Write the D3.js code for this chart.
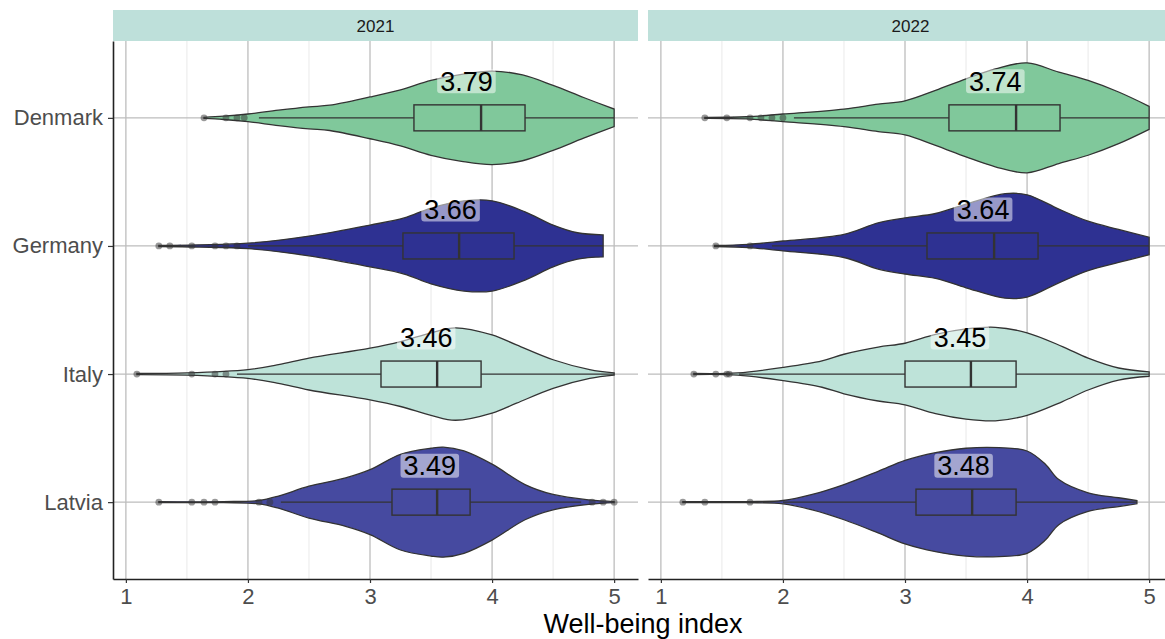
<!DOCTYPE html>
<html>
<head>
<meta charset="utf-8">
<script src="https://cdn.jsdelivr.net/npm/d3@7"></script>
<style>
  body { margin: 0; background: #fff; }
  svg { display: block; font-family: "Liberation Sans", Arial, sans-serif; }
</style>
</head>
<body>
<div class="chart"></div>
<script>
// Categories and facets
var countries = ["Denmark", "Germany", "Italy", "Latvia"];
var years = ["2021", "2022"];
var xTicks = [1, 2, 3, 4, 5];
var xMinorTicks = [1.5, 2.5, 3.5, 4.5];
var countryColors = ["#80C89B", "#2E3192", "#BEE3D9", "#464AA0"];

// Summary values, indexed [year][country]
var meanValues = [[3.79, 3.66, 3.46, 3.49], [3.74, 3.64, 3.45, 3.48]];
var medianValues = [[3.91, 3.73, 3.55, 3.55], [3.91, 3.73, 3.54, 3.55]];
var q1Values = [[3.36, 3.27, 3.09, 3.18], [3.36, 3.18, 3.00, 3.09]];
var q3Values = [[4.27, 4.18, 3.91, 3.82], [4.27, 4.09, 3.91, 3.91]];
var whiskerLow = [[2.09, 2.00, 1.91, 2.27], [2.09, 1.91, 1.64, 2.00]];
var whiskerHigh = [[5.00, 4.91, 5.00, 4.73], [5.00, 5.00, 5.00, 4.90]];

// Outlying points, indexed [year][country]
var outliers = [
    [[1.64, 1.82, 1.91, 1.97],
     [1.27, 1.36, 1.54, 1.73, 1.82, 1.91],
     [1.09, 1.54, 1.73, 1.82],
     [1.27, 1.54, 1.64, 1.73, 2.09, 2.18, 4.82, 4.91, 5.00]],
    [[1.36, 1.54, 1.73, 1.82, 1.91, 2.00],
     [1.45, 1.73],
     [1.27, 1.45, 1.54, 1.56],
     [1.18, 1.36, 1.73]]
];

// Violin density profiles [value, relative density], indexed [year][country]
var densities2021 = [
    [[1.64, 0.01], [1.8, 0.03], [2.0, 0.07], [2.25, 0.14], [2.5, 0.20], [2.67, 0.23], [3.0, 0.38], [3.25, 0.51],
     [3.5, 0.68], [3.75, 0.79], [4.0, 0.85], [4.25, 0.78], [4.5, 0.59], [4.75, 0.37], [5.0, 0.16]],
    [[1.27, 0.01], [1.6, 0.02], [2.0, 0.05], [2.5, 0.18], [3.0, 0.38], [3.28, 0.51], [3.5, 0.69], [3.77, 0.82],
     [4.0, 0.82], [4.27, 0.62], [4.5, 0.38], [4.7, 0.24], [4.91, 0.20]],
    [[1.09, 0.01], [1.5, 0.02], [2.0, 0.08], [2.25, 0.17], [2.5, 0.29], [3.0, 0.47], [3.25, 0.59], [3.5, 0.75],
     [3.7, 0.84], [4.0, 0.71], [4.2, 0.53], [4.5, 0.26], [4.8, 0.08], [5.0, 0.02]],
    [[1.27, 0.01], [1.8, 0.01], [2.09, 0.03], [2.25, 0.11], [2.5, 0.29], [2.8, 0.44], [3.0, 0.59], [3.25, 0.87],
     [3.5, 0.98], [3.6, 1.0], [3.77, 0.93], [4.0, 0.69], [4.27, 0.32], [4.5, 0.14], [4.8, 0.04], [5.0, 0.01]]
];
var densities2022 = [
    [[1.36, 0.01], [1.7, 0.02], [2.0, 0.07], [2.5, 0.16], [2.78, 0.25], [3.0, 0.31], [3.25, 0.50], [3.5, 0.71],
     [3.74, 0.89], [4.0, 1.0], [4.26, 0.83], [4.5, 0.68], [4.75, 0.47], [5.0, 0.21]],
    [[1.44, 0.01], [1.72, 0.03], [2.0, 0.09], [2.5, 0.21], [2.78, 0.42], [3.0, 0.51], [3.25, 0.59], [3.5, 0.76],
     [3.82, 0.95], [4.0, 0.93], [4.26, 0.67], [4.5, 0.45], [4.75, 0.30], [5.0, 0.16]],
    [[1.27, 0.01], [1.63, 0.02], [2.0, 0.12], [2.32, 0.24], [2.5, 0.36], [2.78, 0.49], [3.0, 0.56], [3.25, 0.72],
     [3.5, 0.82], [3.74, 0.85], [4.0, 0.75], [4.29, 0.50], [4.5, 0.29], [4.75, 0.11], [5.0, 0.04]],
    [[1.18, 0.01], [1.7, 0.01], [2.0, 0.03], [2.24, 0.14], [2.5, 0.32], [2.78, 0.56], [3.0, 0.76], [3.25, 0.90],
     [3.5, 0.98], [3.77, 0.99], [4.0, 0.93], [4.15, 0.69], [4.26, 0.41], [4.5, 0.17], [4.75, 0.08], [4.9, 0.03]]
];
var densities = [densities2021, densities2022];

// Layout
var svgWidth = 1165;
var svgHeight = 639;
var stripTop = 10;
var panelTop = 41;
var panelBottom = 579;
var panelWidth = 525;
var panelLefts = [113, 648];

var svg = d3.select(".chart").append("svg")
    .attr("width", svgWidth)
    .attr("height", svgHeight);

// Scales shared by both facets
var xScale = d3.scaleLinear().domain([0.8945, 5.1955]).range([0, panelWidth]);
var yScale = d3.scalePoint().domain(countries).range([panelTop, panelBottom]).padding(0.6);
var widthScale = d3.scaleLinear().domain([0, 1]).range([0, 55]);

var boxHalf = 13;
var inkColor = "#333333";

years.forEach(function(year, yi) {
    var panel = svg.append("g").attr("transform", "translate(" + panelLefts[yi] + ",0)");

    // minor grid
    panel.selectAll(".minor").data(xMinorTicks).enter().append("line")
        .attr("x1", function(d) { return xScale(d); })
        .attr("x2", function(d) { return xScale(d); })
        .attr("y1", panelTop).attr("y2", panelBottom)
        .attr("stroke", "#E3E3E3").attr("stroke-width", 0.8);

    // major grid
    panel.selectAll(".major").data(xTicks).enter().append("line")
        .attr("x1", function(d) { return xScale(d); })
        .attr("x2", function(d) { return xScale(d); })
        .attr("y1", panelTop).attr("y2", panelBottom)
        .attr("stroke", "#BDBDBD").attr("stroke-width", 1.3);

    panel.selectAll(".hgrid").data(countries).enter().append("line")
        .attr("x1", 0).attr("x2", panelWidth)
        .attr("y1", function(d) { return yScale(d); })
        .attr("y2", function(d) { return yScale(d); })
        .attr("stroke", "#BDBDBD").attr("stroke-width", 1.3);

    // strip
    panel.append("rect")
        .attr("x", 0).attr("y", stripTop)
        .attr("width", panelWidth).attr("height", panelTop - stripTop)
        .attr("fill", "#BEE0DA");
    panel.append("text")
        .attr("x", panelWidth / 2).attr("y", (stripTop + panelTop) / 2)
        .attr("dy", "0.36em")
        .attr("text-anchor", "middle")
        .style("font-size", "17px")
        .attr("fill", "#1A1A1A")
        .text(year);

    countries.forEach(function(country, ci) {
        var cy = yScale(country);
        var area = d3.area()
            .x(function(d) { return xScale(d[0]); })
            .y0(function(d) { return cy - widthScale(d[1]); })
            .y1(function(d) { return cy + widthScale(d[1]); })
            .curve(d3.curveCatmullRom.alpha(0.5));

        panel.append("path")
            .datum(densities[yi][ci])
            .attr("d", area)
            .attr("fill", countryColors[ci])
            .attr("stroke", inkColor)
            .attr("stroke-width", 1.3);

        // whiskers
        panel.append("line")
            .attr("x1", xScale(whiskerLow[yi][ci])).attr("x2", xScale(q1Values[yi][ci]))
            .attr("y1", cy).attr("y2", cy)
            .attr("stroke", inkColor).attr("stroke-width", 1.3);
        panel.append("line")
            .attr("x1", xScale(q3Values[yi][ci])).attr("x2", xScale(whiskerHigh[yi][ci]))
            .attr("y1", cy).attr("y2", cy)
            .attr("stroke", inkColor).attr("stroke-width", 1.3);

        // box
        panel.append("rect")
            .attr("x", xScale(q1Values[yi][ci]))
            .attr("y", cy - boxHalf)
            .attr("width", xScale(q3Values[yi][ci]) - xScale(q1Values[yi][ci]))
            .attr("height", boxHalf * 2)
            .attr("fill", "none")
            .attr("stroke", inkColor).attr("stroke-width", 1.4);
        panel.append("line")
            .attr("x1", xScale(medianValues[yi][ci])).attr("x2", xScale(medianValues[yi][ci]))
            .attr("y1", cy - boxHalf).attr("y2", cy + boxHalf)
            .attr("stroke", inkColor).attr("stroke-width", 2.4);

        // outliers
        panel.selectAll(null).data(outliers[yi][ci]).enter().append("circle")
            .attr("cx", function(d) { return xScale(d); })
            .attr("cy", cy)
            .attr("r", 3.4)
            .attr("fill", "#333")
            .attr("fill-opacity", 0.5);

        // mean label
        var lab = panel.append("g")
            .attr("transform", "translate(" + xScale(meanValues[yi][ci]) + "," + (cy - 36.5) + ")");
        var bg = lab.append("rect");
        var txt = lab.append("text")
            .attr("text-anchor", "middle")
            .attr("dy", "0.36em")
            .style("font-size", "27px")
            .attr("fill", "#000")
            .text(meanValues[yi][ci].toFixed(2));
        var tw = txt.node().getComputedTextLength();
        bg.attr("x", -tw / 2 - 3).attr("y", -12)
            .attr("width", tw + 6).attr("height", 24)
            .attr("rx", 3)
            .attr("fill", "#fff").attr("fill-opacity", 0.5);
    });

    // bottom axis
    var bottomAxis = d3.axisBottom(xScale).tickValues(xTicks).tickSize(4).tickSizeOuter(0).tickPadding(5)
        .tickFormat(d3.format("d"));
    var xg = panel.append("g")
        .attr("transform", "translate(0," + panelBottom + ")")
        .call(bottomAxis);
    xg.select(".domain").attr("stroke", "#222").attr("stroke-width", 1.6);
    xg.selectAll(".tick line").attr("stroke", inkColor).attr("stroke-width", 1.2);
    xg.selectAll(".tick text").style("font-size", "22px").attr("fill", "#4D4D4D")
        .style("font-family", "'Liberation Sans', Arial, sans-serif");

    if (yi === 0) {
        var leftAxis = d3.axisLeft(yScale).tickSize(5).tickSizeOuter(0).tickPadding(5);
        var yg = panel.append("g").call(leftAxis);
        yg.select(".domain").attr("stroke", "#222").attr("stroke-width", 1.6);
        yg.selectAll(".tick line").attr("stroke", inkColor).attr("stroke-width", 1.2);
        yg.selectAll(".tick text").style("font-size", "22px").attr("fill", "#4D4D4D")
            .style("font-family", "'Liberation Sans', Arial, sans-serif");
    }
});

// x-axis title
svg.append("text")
    .attr("x", 643)
    .attr("y", 633)
    .attr("text-anchor", "middle")
    .style("font-size", "27px")
    .attr("fill", "#000")
    .text("Well-being index");
</script>
</body>
</html>
